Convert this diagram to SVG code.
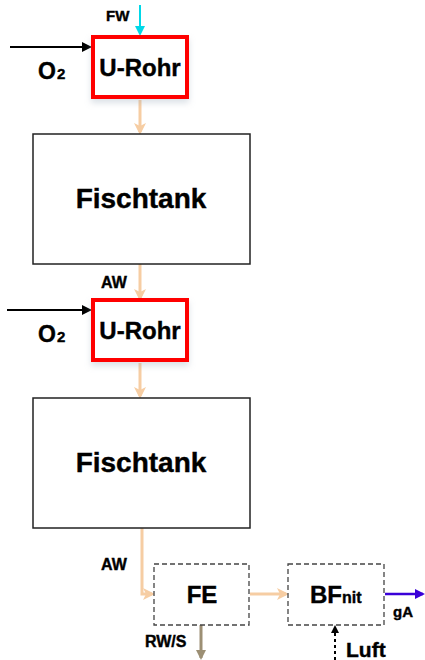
<svg xmlns="http://www.w3.org/2000/svg" width="425" height="660" viewBox="0 0 425 660">
<style>
text{font-family:"Liberation Sans",Arial,sans-serif;font-weight:bold;fill:#000;stroke:#000;stroke-width:0.4}
.ur{fill:#fff;stroke:#f00;stroke-width:4}
.ft{fill:#fff;stroke:#222;stroke-width:1.5}
.dz{fill:#fff;stroke:#444;stroke-width:1.3;stroke-dasharray:5,3}
.pe{fill:none;stroke:#f6cda3;stroke-width:3}
.bk{fill:none;stroke:#000;stroke-width:2.2}
</style>
<defs>
<marker id="mp" markerWidth="12" markerHeight="12" refX="9" refY="6" orient="auto" markerUnits="userSpaceOnUse"><path d="M0,0 L12,6 L0,12 L3,6 z" fill="#f6cda3"/></marker>
<marker id="mb" markerWidth="10" markerHeight="10" refX="8" refY="5" orient="auto" markerUnits="userSpaceOnUse"><path d="M0,0 L10,5 L0,10 z" fill="#000"/></marker>
<marker id="mc" markerWidth="10" markerHeight="10" refX="8" refY="5" orient="auto" markerUnits="userSpaceOnUse"><path d="M0,0 L10,5 L0,10 z" fill="#00d8e8"/></marker>
<marker id="mv" markerWidth="10" markerHeight="10" refX="8" refY="5" orient="auto" markerUnits="userSpaceOnUse"><path d="M0,0 L10,5 L0,10 z" fill="#3a00d8"/></marker>
<marker id="mg" markerWidth="10" markerHeight="10" refX="8" refY="5" orient="auto" markerUnits="userSpaceOnUse"><path d="M0,0 L10,5 L0,10 z" fill="#9c8f74"/></marker>
<marker id="md" markerWidth="8" markerHeight="8" refX="6" refY="4" orient="auto" markerUnits="userSpaceOnUse"><path d="M0,0 L8,4 L0,8 z" fill="#000"/></marker>
<filter id="sh" x="-20%" y="-20%" width="140%" height="150%"><feDropShadow dx="0" dy="4" stdDeviation="3" flood-color="#9ab" flood-opacity="0.35"/></filter>
</defs>
<g id="connectors">
<line x1="140" y1="5" x2="140" y2="34" stroke="#00d8e8" stroke-width="2" marker-end="url(#mc)"/>
<line class="bk" x1="10" y1="47" x2="90" y2="47" marker-end="url(#mb)"/>
<line class="bk" x1="7" y1="310" x2="90" y2="310" marker-end="url(#mb)"/>
<line class="pe" x1="140" y1="100" x2="140" y2="132" marker-end="url(#mp)"/>
<line class="pe" x1="140" y1="264" x2="140" y2="298" marker-end="url(#mp)"/>
<line class="pe" x1="140" y1="363" x2="140" y2="396" marker-end="url(#mp)"/>
<polyline class="pe" points="142,528 142,594 152,594" marker-end="url(#mp)"/>
<line class="pe" x1="250" y1="594" x2="286" y2="594" marker-end="url(#mp)"/>
<line x1="385" y1="594" x2="423" y2="594" stroke="#3a00d8" stroke-width="2.5" marker-end="url(#mv)"/>
<line x1="201" y1="625" x2="201" y2="658" stroke="#9c8f74" stroke-width="3" marker-end="url(#mg)"/>
<line x1="335" y1="660" x2="335" y2="627" stroke="#000" stroke-width="2" stroke-dasharray="3,3" marker-end="url(#md)"/>
</g>
<g id="labels">
<text x="106" y="21" font-size="15">FW</text>
<text x="38" y="79" font-size="23">O<tspan font-size="15" dx="1">2</tspan></text>
<text x="101" y="288" font-size="16">AW</text>
<text x="38" y="342" font-size="23">O<tspan font-size="15" dx="1">2</tspan></text>
<text x="101" y="570" font-size="16">AW</text>
<text x="145" y="647" font-size="16">RW/S</text>
<text x="393" y="617" font-size="15">gA</text>
<text x="346" y="657" font-size="21">Luft</text>
</g>
<g id="urohr1"><rect class="ur" x="93" y="37" width="94" height="60" filter="url(#sh)"/><text x="140" y="76" font-size="24" text-anchor="middle">U-Rohr</text></g>
<g id="fischtank1"><rect class="ft" x="33" y="134" width="217" height="130"/><text x="141" y="208" font-size="28" text-anchor="middle">Fischtank</text></g>
<g id="urohr2"><rect class="ur" x="93" y="300" width="94" height="60" filter="url(#sh)"/><text x="140" y="339" font-size="24" text-anchor="middle">U-Rohr</text></g>
<g id="fischtank2"><rect class="ft" x="33" y="398" width="217" height="130"/><text x="141" y="472" font-size="28" text-anchor="middle">Fischtank</text></g>
<g id="fe"><rect class="dz" x="154" y="564" width="95" height="61"/><text x="202" y="603" font-size="24" text-anchor="middle">FE</text></g>
<g id="bfnit"><rect class="dz" x="288" y="564" width="96" height="61"/><text x="310" y="603" font-size="24">BF<tspan font-size="16">nit</tspan></text></g>
</svg>
